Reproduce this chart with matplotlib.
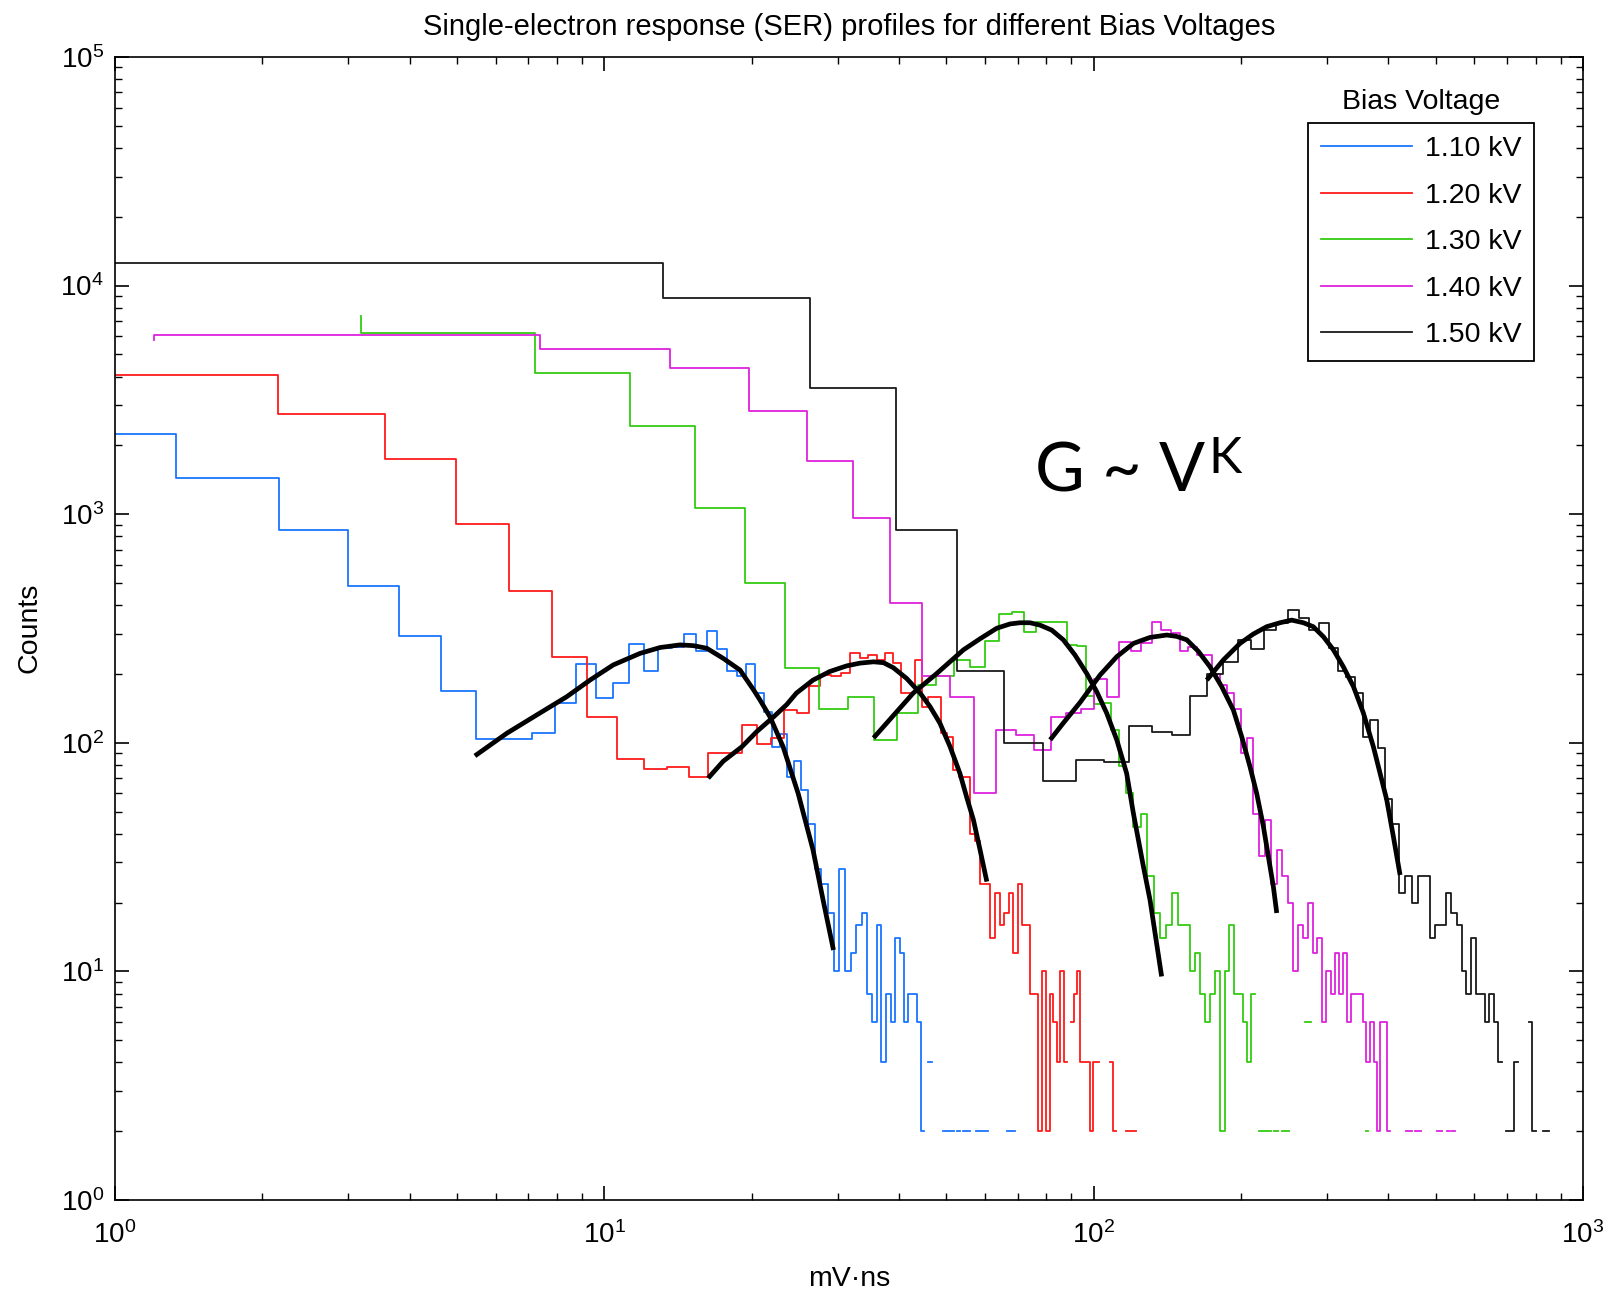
import matplotlib
matplotlib.use("Agg")
import matplotlib.pyplot as plt
import numpy as np

plt.rcParams['font.family'] = ['Liberation Sans', 'DejaVu Sans']

# bias voltages and colours
labels = ['1.10 kV', '1.20 kV', '1.30 kV', '1.40 kV', '1.50 kV']
colors = ['#1a75ff', '#ff1a1a', '#33cc11', '#dd22dd', '#1a1a1a']

# histogram binning (first edge, bin width) in mV*ns
bin_start = [0.51, 0.74, -0.87, -5.0, 0.07]
bin_width = [0.826, 1.413, 4.05, 6.2, 13.13]

# counts per bin (0 = empty bin)
counts_110 = [2240, 1445, 850, 485, 292, 169, 104, 104, 110, 149,
              220, 157, 182, 271, 205, 259, 262, 298, 252, 308,
              256, 205, 195, 220, 165, 137, 96, 109, 71, 83,
              62, 44, 28, 24, 18, 10, 28, 10, 12, 16,
              18, 8, 6, 16, 4, 8, 6, 14, 12, 6,
              8, 8, 6, 2, 0, 4, 0, 0, 0, 2,
              2, 2, 0, 2, 0, 2, 2, 0, 0, 2,
              2, 2, 2, 0, 0, 0, 0, 0, 0, 0,
              2, 2, 2]
counts_120 = [4076, 2744, 1744, 903, 460, 238, 130, 85, 77, 78,
              71, 90, 90, 120, 99, 105, 139, 135, 178, 198,
              195, 201, 246, 234, 242, 230, 246, 224, 165, 165,
              230, 144, 159, 159, 110, 106, 76, 71, 71, 40,
              37, 24, 24, 14, 22, 16, 18, 22, 12, 24,
              16, 16, 8, 8, 2, 10, 2, 8, 6, 4,
              10, 4, 0, 6, 8, 10, 4, 4, 4, 2,
              4, 4, 0, 0, 0, 0, 4, 2, 0, 0,
              0, 0, 2, 2, 2, 2]
counts_130 = [7365, 6185, 4160, 2440, 1068, 501, 212, 140, 158, 103,
              135, 179, 195, 230, 215, 278, 365, 375, 306, 339,
              339, 339, 268, 265, 160, 148, 150, 114, 79, 60,
              43, 49, 26, 18, 14, 16, 22, 16, 16, 10,
              12, 8, 6, 8, 10, 2, 10, 16, 8, 8,
              6, 4, 8, 0, 2, 2, 2, 0, 2, 0,
              2, 2, 0, 0, 0, 0, 0, 6, 6, 0,
              0, 0, 0, 0, 0, 0, 0, 0, 0, 0,
              0, 0, 0, 0, 0, 0, 0, 0, 0, 2]
counts_140 = [5780, 6064, 5297, 4340, 2813, 1716, 960, 409, 195, 158,
              60, 114, 108, 93, 130, 135, 141, 190, 158, 277,
              253, 272, 339, 311, 303, 253, 262, 242, 242, 200,
              179, 165, 140, 90, 105, 49, 32, 46, 24, 34,
              26, 20, 10, 16, 14, 20, 12, 14, 6, 10,
              8, 12, 8, 12, 6, 8, 8, 8, 6, 4,
              6, 4, 2, 6, 6, 2, 0, 0, 0, 0,
              0, 2, 2, 0, 2, 2, 0, 0, 0, 0,
              0, 0, 2, 2, 0, 0, 2, 0, 2]
counts_150 = [12600, 8795, 3575, 855, 205, 100, 68, 84, 82, 118,
              112, 108, 160, 200, 225, 282, 257, 311, 334, 380,
              350, 311, 334, 260, 205, 193, 165, 106, 126, 95,
              57, 44, 22, 26, 20, 26, 26, 14, 16, 16,
              22, 18, 16, 10, 8, 14, 8, 8, 6, 8,
              6, 4, 0, 2, 2, 4, 0, 0, 0, 6,
              2, 0, 0, 2, 2]
all_counts = [counts_110, counts_120, counts_130, counts_140, counts_150]

# fitted curves (mV*ns, counts)
fit_x_110 = [5.44, 6.32, 7.39, 8.38, 9.35, 10.43, 11.83, 13.0, 14.28, 15.2, 16.2,
             17.5, 18.94, 20.2, 20.8, 21.8, 23.2, 24.9, 26.7, 28.0, 29.4]
fit_y_110 = [87.6, 110, 135, 159, 188, 219, 246, 261, 268, 266, 259,
             234, 208, 170, 154, 130, 96, 60, 34, 20.5, 12.4]
fit_x_120 = [16.3, 17.5, 19.1, 20.5, 22.2, 23.6, 24.7, 26.7, 28.9, 31.3, 33.3, 35.5,
             37.2, 38.96, 41.5, 44.2, 46.3, 48.5, 50.9, 53.3, 55.0, 56.8, 58.6, 60.5]
fit_y_120 = [70, 83, 96, 112, 130, 147, 165, 188, 205, 217, 223, 226,
             224, 213, 191, 165, 144, 122, 96, 73.5, 58, 46, 34, 24.7]
fit_x_130 = [35.5, 42.8, 47.8, 54.2, 58.6, 63.4, 67.5, 70.7, 74.1, 77.7, 82.1, 86.7,
             91.6, 96.8, 101.5, 106.3, 111.5, 116.8, 120.6, 126.4, 130.4, 137.7]
fit_y_130 = [105, 165, 201, 255, 285, 317, 331, 335, 335, 327, 311, 282,
             242, 201, 167, 135, 103, 73.5, 49, 28.7, 20.5, 9.5]
fit_x_140 = [81.5, 86.7, 93.8, 103.1, 111.5, 120.6, 130.4, 141.1, 147.8, 155, 163.7,
             172.9, 182.7, 193, 200.8, 208.7, 215.4, 222.3, 227.6, 233, 236.7]
fit_y_140 = [103, 122, 150, 198, 238, 272, 289, 296, 292, 282, 251,
             215, 176, 139, 106, 78.6, 60, 43, 31.7, 23.4, 18]
fit_x_150 = [170.3, 184, 199.1, 212, 225.8, 240.4, 254, 268.3, 281, 294.8, 309,
             323.8, 339.6, 355.8, 373, 384.9, 397, 409.8, 422.9]
fit_y_150 = [188, 230, 272, 299, 322, 335, 344, 335, 322, 291, 255,
             215, 176, 135, 96, 73.5, 56.5, 38.8, 26.4]
fits = [(fit_x_110, fit_y_110), (fit_x_120, fit_y_120), (fit_x_130, fit_y_130),
        (fit_x_140, fit_y_140), (fit_x_150, fit_y_150)]

fig = plt.figure(figsize=(16.12, 12.95), dpi=100)
ax = fig.add_axes([0.0713, 0.0734, 0.9107, 0.8826])

for vals, e0, w, col, lab in zip(all_counts, bin_start, bin_width, colors, labels):
    vals = np.array(vals, dtype=float)
    vals[vals <= 0] = np.nan
    edges = e0 + w * np.arange(len(vals) + 1)
    edges[edges <= 0] = np.nan
    ax.plot(edges, np.append(vals, vals[-1]), drawstyle='steps-post',
            color=col, lw=1.3, label=lab)

for fx, fy in fits:
    ax.plot(fx, fy, color='black', lw=3.4, solid_capstyle='butt', solid_joinstyle='round')

ax.set_xscale('log')
ax.set_yscale('log')
ax.set_xlim(1, 1000)
ax.set_ylim(1, 1e5)

ax.tick_params(which='both', direction='in', top=True, right=True, labelsize=20)
ax.tick_params(which='major', length=10, width=1.2)
ax.tick_params(which='minor', length=5, width=1.0)
ax.tick_params(axis='x', pad=15)
ax.tick_params(axis='y', pad=8)
for s in ax.spines.values():
    s.set_linewidth(1.2)

leg = ax.legend(loc='upper right', bbox_to_anchor=(0.9666, 0.9419), borderaxespad=0,
                fontsize=20.5, handlelength=3.2, handletextpad=0.45,
                labelspacing=0.72, borderpad=0.45, fancybox=False, framealpha=1)
leg.get_frame().set_edgecolor('black')
leg.get_frame().set_linewidth(1.3)
ax.text(0.890, 0.9606, 'Bias Voltage', transform=ax.transAxes,
        ha='center', va='center', fontsize=20.5)

ax.text(0.627, 0.620, 'G ~ V', transform=ax.transAxes, fontsize=49,
        family='Lato', ha='left', va='baseline')
ax.text(0.745, 0.636, 'K', transform=ax.transAxes, fontsize=36,
        family='Lato', ha='left', va='baseline')

fig.text(0.5265, 1 - 27 / 1295, 'Single-electron response (SER) profiles for different Bias Voltages',
         ha='center', va='center', fontsize=21)
fig.text(849 / 1612, 1 - 1279 / 1295, 'mV\u00b7ns', ha='center', va='center', fontsize=20.5)
fig.text(29.5 / 1612, 1 - 628 / 1295, 'Counts', ha='center', va='center',
         rotation=90, fontsize=20.5)

fig.savefig('out.png', dpi=100)
